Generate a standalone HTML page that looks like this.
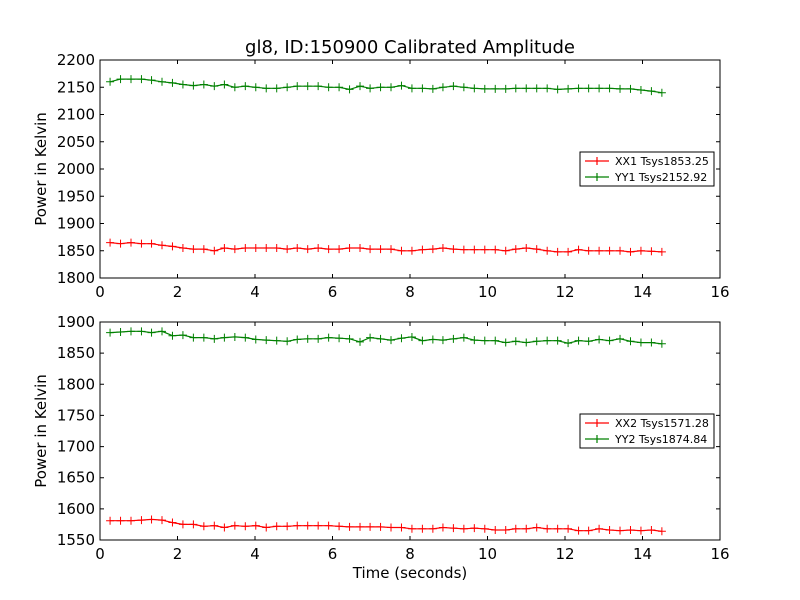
<!DOCTYPE html>
<html><head><meta charset="utf-8"><style>
body{margin:0;background:#fff}
svg{display:block;font-family:"DejaVu Sans","Liberation Sans",sans-serif}
</style></head><body>
<svg id="c" width="800" height="600" viewBox="0 0 800 600">
<rect width="800" height="600" fill="#fff"/>
<text x="410" y="53" font-size="18" text-anchor="middle">gl8, ID:150900 Calibrated Amplitude</text>
<text x="410" y="578" font-size="15" text-anchor="middle">Time (seconds)</text>
</svg>
<script>
const times=[0.26,0.53,0.80,1.07,1.33,1.60,1.87,2.14,2.41,2.68,2.95,3.21,3.48,3.75,4.02,4.29,4.56,4.83,5.09,5.36,5.63,5.90,6.17,6.44,6.71,6.97,7.24,7.51,7.78,8.05,8.32,8.59,8.85,9.12,9.39,9.66,9.93,10.20,10.47,10.73,11.00,11.27,11.54,11.81,12.08,12.35,12.61,12.88,13.15,13.42,13.69,13.96,14.23,14.50];
const xx1=[1865,1863,1865,1863,1863,1860,1858,1855,1853,1853,1850,1855,1853,1855,1855,1855,1855,1853,1855,1853,1855,1853,1853,1855,1855,1853,1853,1853,1850,1850,1852,1853,1855,1853,1852,1852,1852,1852,1850,1853,1855,1853,1850,1848,1848,1852,1850,1850,1850,1850,1848,1850,1849,1848];
const yy1=[2160,2165,2165,2165,2163,2160,2158,2155,2153,2155,2152,2155,2150,2152,2150,2148,2148,2150,2152,2152,2152,2150,2150,2146,2152,2148,2150,2150,2153,2148,2148,2147,2150,2152,2150,2148,2147,2147,2147,2148,2148,2148,2148,2146,2147,2148,2148,2148,2148,2147,2147,2145,2143,2140];
const xx2=[1581,1581,1581,1582,1583,1582,1578,1575,1575,1572,1573,1570,1573,1572,1573,1570,1572,1572,1573,1573,1573,1573,1572,1571,1571,1571,1571,1570,1570,1568,1568,1568,1570,1569,1568,1569,1568,1566,1566,1568,1568,1570,1568,1568,1568,1565,1565,1568,1566,1565,1566,1565,1566,1564];
const yy2=[1883,1884,1885,1885,1883,1885,1878,1879,1875,1875,1873,1875,1876,1875,1872,1871,1870,1869,1872,1873,1873,1875,1874,1873,1868,1875,1873,1871,1874,1876,1870,1872,1871,1873,1875,1871,1870,1870,1867,1869,1867,1869,1870,1870,1866,1870,1869,1872,1870,1873,1869,1867,1867,1865];
const xTicks=[0,2,4,6,8,10,12,14,16];
const yTicksTop=[1800,1850,1900,1950,2000,2050,2100,2150,2200];
const yTicksBot=[1550,1600,1650,1700,1750,1800,1850,1900];
const legTop=["XX1 Tsys1853.25","YY1 Tsys2152.92"];
const legBot=["XX2 Tsys1571.28","YY2 Tsys1874.84"];
const NS="http://www.w3.org/2000/svg";
const svg=document.getElementById('c');
function mk(t,a,p){const e=document.createElementNS(NS,t);for(const k in a)e.setAttribute(k,a[k]);(p||svg).appendChild(e);return e;}
function panel(name,top,bot,ymin,ymax,yt,s1,s2,leg,legY){
  const L=100,R=720;
  const g=mk('g',{});
  
  
  const xs=v=>L+(v-0)/(16-0)*(R-L);
  const ys=v=>bot-(v-ymin)/(ymax-ymin)*(bot-top);
  [[s1,'#ff0000','xx'],[s2,'#008000','yy']].forEach(([s,c,n])=>{
    const n2=Math.min(s.length,times.length);
    let d='';
    for(let i=0;i<n2;i++){d+=(i?'L':'M')+xs(times[i]).toFixed(1)+','+ys(s[i]).toFixed(1);}
    const p=mk('path',{d:d,fill:'none',stroke:c,'stroke-width':1.2},g);
    
    
    for(let i=0;i<n2;i++){
      const x=xs(times[i]),y=ys(s[i]);
      const m=mk('path',{d:`M${x-4},${y}H${x+4}M${x},${y-4}V${y+4}`,stroke:c,'stroke-width':1},g);
      
      
    }
  });
  const fr=mk('rect',{x:L,y:top,width:R-L,height:bot-top,fill:'none',stroke:'#000','stroke-width':1},g);
  
  
  xTicks.forEach(v=>{
    const x=xs(v);
    mk('path',{d:`M${x},${bot}v-4M${x},${top}v4`,stroke:'#000'},g);
    const t=mk('text',{x:x,y:bot+19,'font-size':15,'text-anchor':'middle'},g);
    t.textContent=v;
    
    
  });
  yt.forEach(v=>{
    const y=ys(v);
    mk('path',{d:`M${L},${y}h4M${R},${y}h-4`,stroke:'#000'},g);
    const t=mk('text',{x:L-5,y:y+5,'font-size':15,'text-anchor':'end'},g);
    t.textContent=v;
    
    
  });
  const yl=mk('text',{x:0,y:0,'font-size':15,'text-anchor':'middle',transform:`translate(46,${(top+bot)/2}) rotate(-90)`},g);
  yl.textContent='Power in Kelvin';
  
  
  const lg=mk('g',{},g);
  
  
  mk('rect',{x:580,y:legY,width:134,height:34,fill:'#fff',stroke:'#000'},lg);
  ['#ff0000','#008000'].forEach((c,i)=>{
    const y=legY+9+i*16;
    mk('path',{d:`M585,${y}H609M597,${y-4}V${y+4}`,stroke:c,'stroke-width':1.2},lg);
    const t=mk('text',{x:615,y:y+4,'font-size':11},lg);
    t.textContent=leg[i];
    
    
  });
}
panel('top-panel',60,278,1800,2200,yTicksTop,xx1,yy1,legTop,152);
panel('bottom-panel',322,540,1550,1900,yTicksBot,xx2,yy2,legBot,414);
</script>
</body></html>
